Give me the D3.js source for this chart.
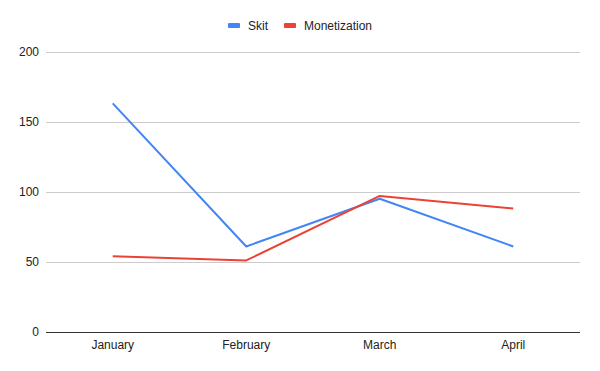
<!DOCTYPE html>
<html>
<head>
<meta charset="utf-8">
<script src="https://cdn.jsdelivr.net/npm/d3@7"></script>
<style>
  body { margin: 0; background: #fff; }
  text { font-family: "Liberation Sans", Arial, sans-serif; }
</style>
</head>
<body>
<svg id="chart" width="600" height="371"></svg>
<script>
// Chart data
const months = ["January", "February", "March", "April"];
const skit = [163, 61, 95, 61];
const monetization = [54, 51, 97, 88];
const yTicks = [0, 50, 100, 150, 200];

const seriesNames = ["Skit", "Monetization"];
const seriesColors = ["#4285f4", "#ea4335"];

const width = 600;
const height = 371;
const margin = { top: 51.5, right: 20, bottom: 39, left: 46 };

const svg = d3.select("#chart");

const x = d3.scalePoint()
  .domain(months)
  .range([margin.left, width - margin.right])
  .padding(0.5);

const y = d3.scaleLinear()
  .domain([0, 200])
  .range([height - margin.bottom, margin.top]);

// Gridlines
svg.append("g")
  .selectAll("line")
  .data(yTicks.filter(d => d !== 0))
  .enter()
  .append("line")
  .attr("x1", margin.left)
  .attr("x2", width - margin.right)
  .attr("y1", d => Math.round(y(d)) + 0.5)
  .attr("y2", d => Math.round(y(d)) + 0.5)
  .attr("stroke", "#cccccc")
  .attr("stroke-width", 1);

// Y tick labels
svg.append("g")
  .selectAll("text")
  .data(yTicks)
  .enter()
  .append("text")
  .attr("x", 39)
  .attr("y", d => y(d))
  .attr("dy", "0.35em")
  .attr("text-anchor", "end")
  .attr("font-size", 12)
  .attr("fill", "#222")
  .text(d => d);

// X labels
svg.append("g")
  .selectAll("text")
  .data(months)
  .enter()
  .append("text")
  .attr("x", d => x(d))
  .attr("y", height - margin.bottom + 17)
  .attr("text-anchor", "middle")
  .attr("font-size", 12)
  .attr("fill", "#222")
  .text(d => d);

// Lines
const line = d3.line()
  .x((d, i) => x(months[i]))
  .y(d => y(d));

[skit, monetization].forEach((values, i) => {
  svg.append("path")
    .datum(values)
    .attr("fill", "none")
    .attr("stroke", seriesColors[i])
    .attr("stroke-width", 2)
    .attr("stroke-linejoin", "round")
    .attr("d", line);
});

// Baseline
svg.append("line")
  .attr("x1", margin.left)
  .attr("x2", width - margin.right)
  .attr("y1", Math.round(y(0)) + 0.5)
  .attr("y2", Math.round(y(0)) + 0.5)
  .attr("stroke", "#333333")
  .attr("stroke-width", 1);

// Legend
const legendX = [228, 284];
const legend = svg.append("g")
  .selectAll("g")
  .data(seriesNames)
  .enter()
  .append("g")
  .attr("transform", (d, i) => `translate(${legendX[i]},25.5)`);

legend.append("rect")
  .attr("x", 0)
  .attr("y", -2.5)
  .attr("width", 12)
  .attr("height", 5)
  .attr("rx", 1)
  .attr("fill", (d, i) => seriesColors[i]);

legend.append("text")
  .attr("x", 20)
  .attr("y", 0)
  .attr("dy", "0.35em")
  .attr("font-size", 12)
  .attr("fill", "#222")
  .text(d => d);
</script>
</body>
</html>
